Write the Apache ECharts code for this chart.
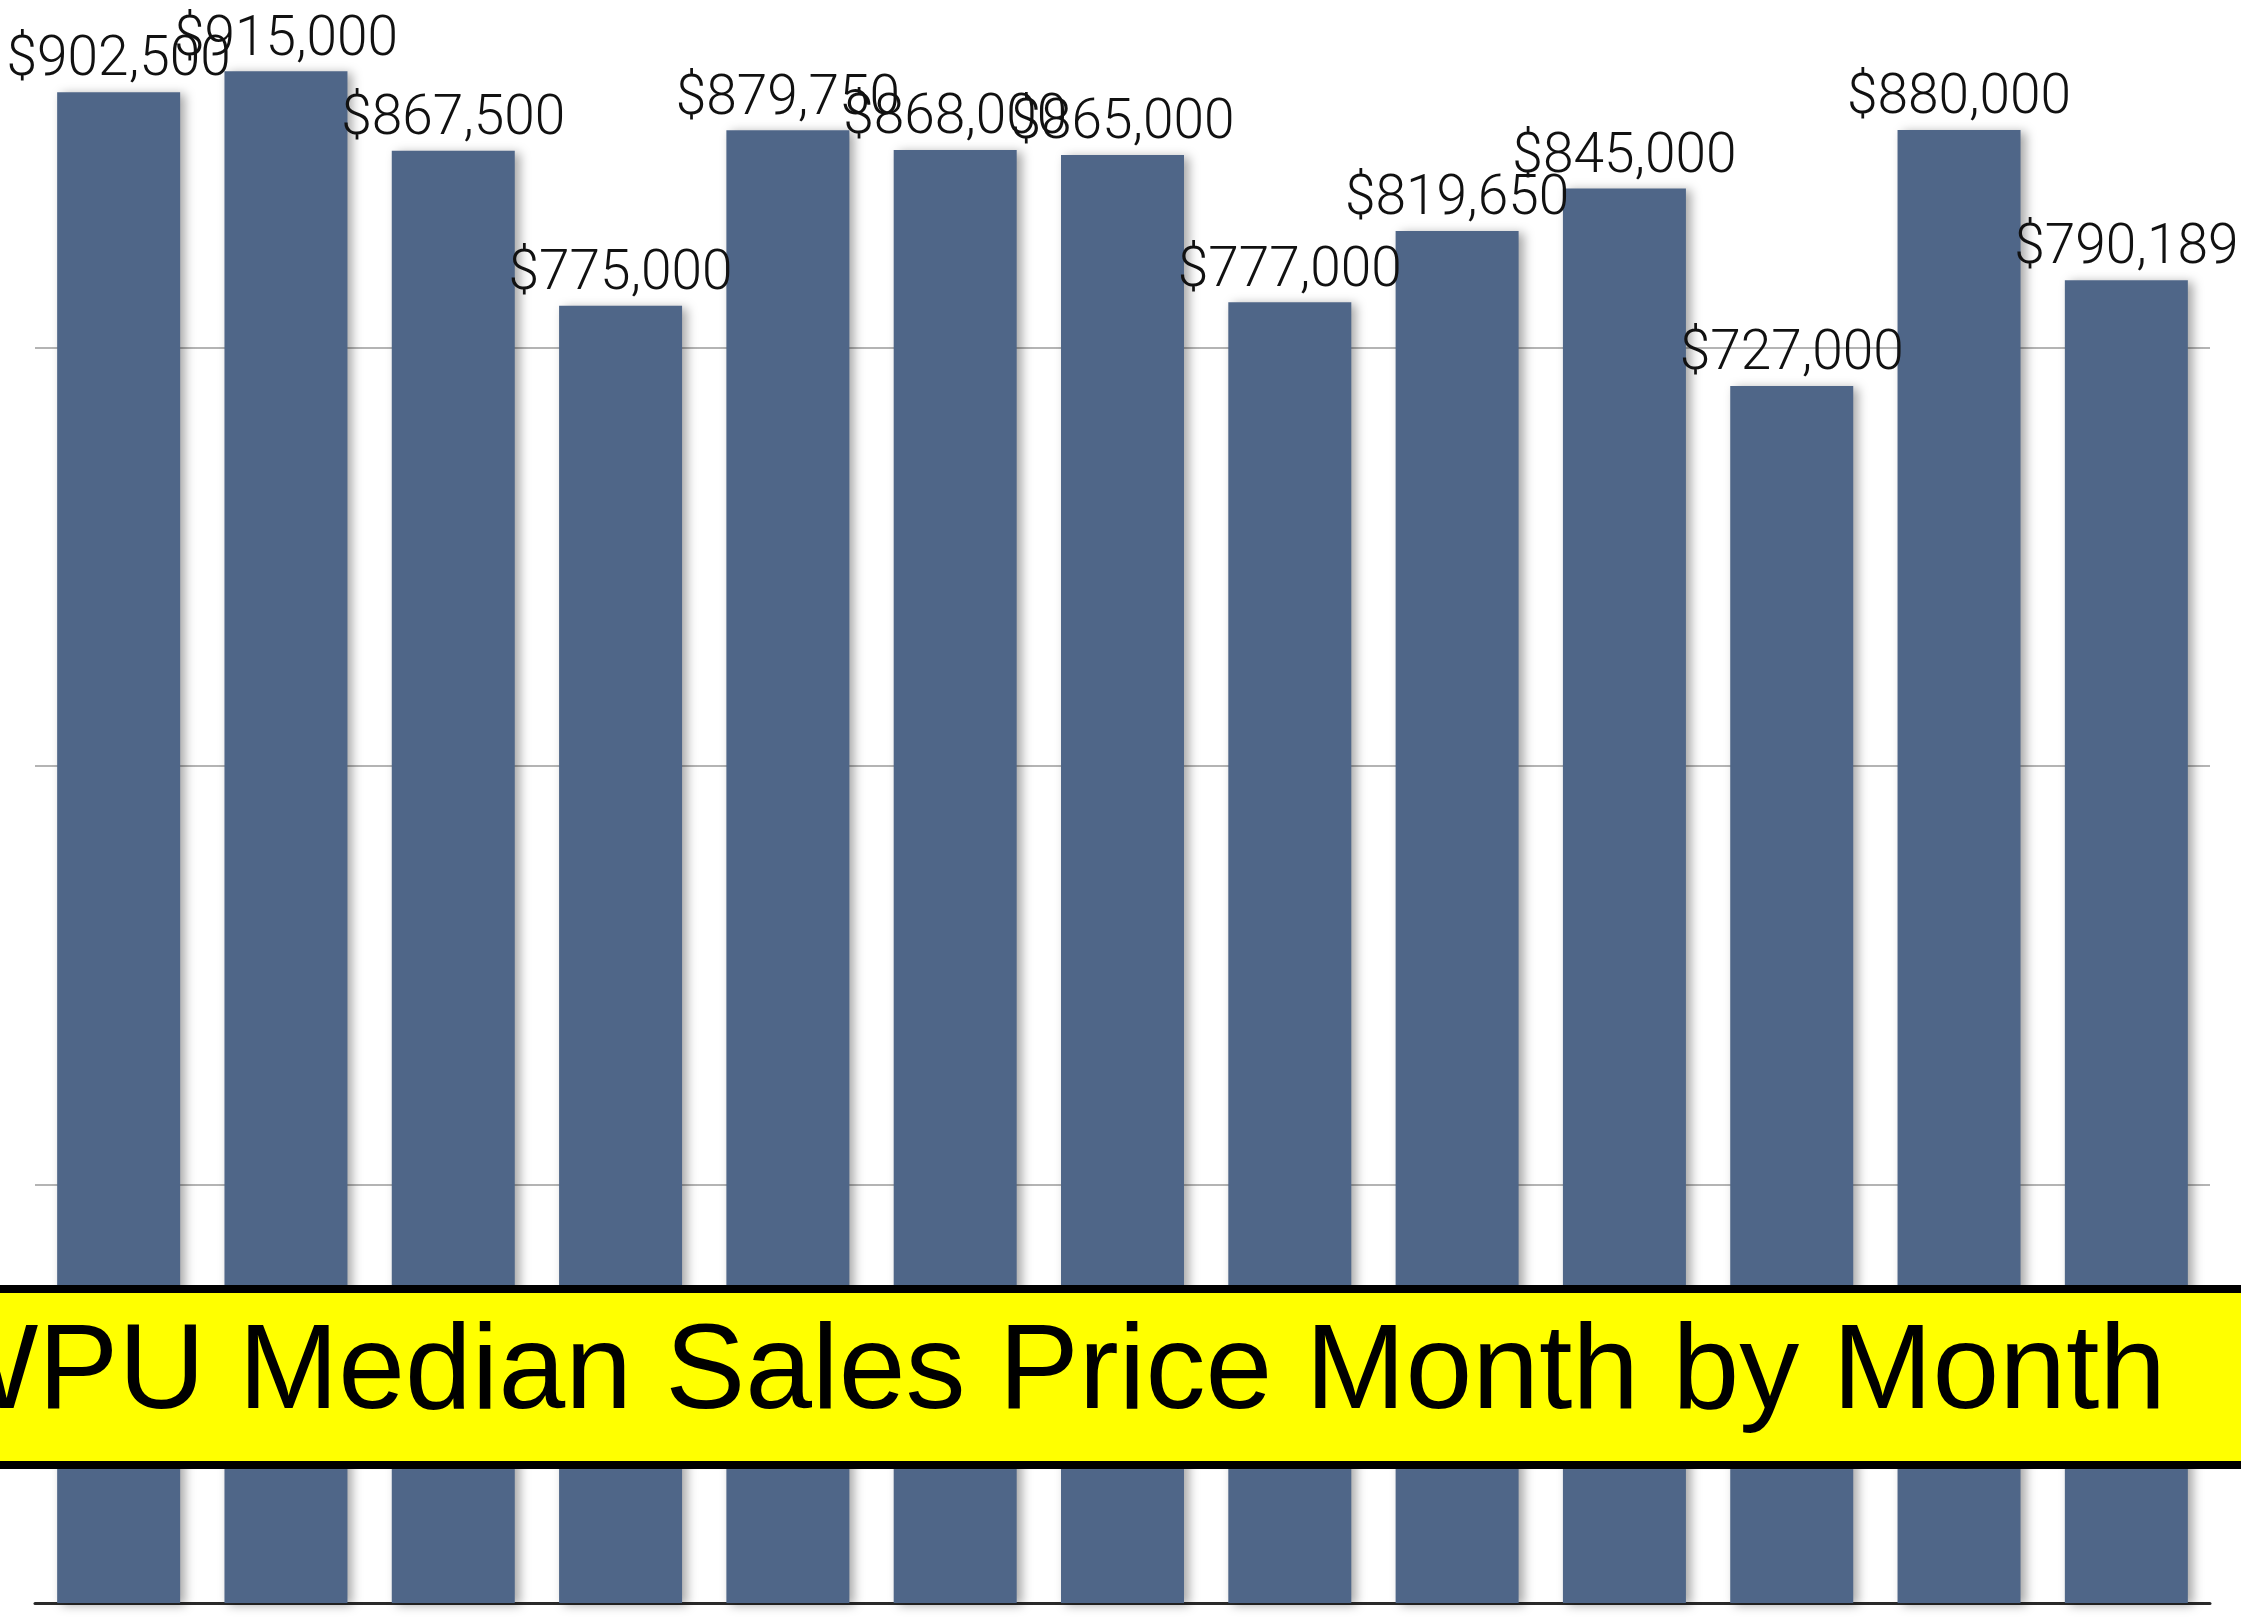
<!DOCTYPE html>
<html>
<head>
<meta charset="utf-8">
<title>WPU Median Sales Price Month by Month</title>
<script src="https://cdn.jsdelivr.net/npm/echarts@6/dist/echarts.min.js"></script>
<style>
    html, body { margin: 0; padding: 0; background: #ffffff; }
    #barChart { width: 2241px; height: 1618px; }
</style>
</head>
<body>
<div id="barChart"></div>
<script>
// data
const months = ['1', '2', '3', '4', '5', '6', '7', '8', '9', '10', '11', '12', '13'];
const medianPrice = [902500, 915000, 867500, 775000, 879750, 868000, 865000, 777000, 819650, 845000, 727000, 880000, 790189];
const yMin = 0;
const yMax = 957600;       // top edge of the plot (the 1,000,000 line is off the picture)
const yStep = 250000;
const bannerText = 'WPU Median Sales Price Month by Month';

function loadBarChart() {
    const chartDom = document.getElementById('barChart');
    const myChart = echarts.init(chartDom);

    const option = {
        animation: false,
        grid: {
            left: 35,
            right: 31,
            top: 0,
            bottom: 15
        },
        xAxis: {
            type: 'category',
            data: months,
            axisTick: { show: false },
            axisLabel: { show: false },
            axisLine: {
                lineStyle: { color: '#2a2a2a', width: 3 }
            }
        },
        yAxis: {
            type: 'value',
            min: yMin,
            max: yMax,
            interval: yStep,
            axisLabel: { show: false },
            axisLine: { show: false },
            axisTick: { show: false },
            splitLine: {
                showMaxLine: false,
                lineStyle: { color: '#b4b4b4', width: 2 }
            }
        },
        series: [{
            name: 'Median Sales Price',
            type: 'bar',
            data: medianPrice,
            barWidth: 123,
            itemStyle: {
                color: '#4f6688',
                shadowColor: 'rgba(0, 0, 0, 0.35)',
                shadowBlur: 10,
                shadowOffsetX: 5,
                shadowOffsetY: 2
            },
            label: {
                show: true,
                position: 'top',
                distance: 3,
                color: '#111',
                fontFamily: 'Roboto, "Liberation Sans", sans-serif',
                fontWeight: 300,
                fontSize: 55,
                formatter: (p) => '$' + p.value.toLocaleString('en-US')
            }
        }],
        graphic: [
            {
                type: 'rect',
                z: 100,
                zlevel: 1,
                shape: { x: -20, y: 1289, width: 2281, height: 176 },
                style: { fill: '#ffff00', stroke: '#000', lineWidth: 8 }
            },
            {
                type: 'text',
                z: 101,
                zlevel: 1,
                x: 2166,
                y: 1375,
                style: {
                    text: bannerText,
                    align: 'right',
                    verticalAlign: 'middle',
                    fill: '#000',
                    font: '120px "Liberation Sans", Arial, sans-serif'
                }
            }
        ]
    };

    myChart.setOption(option);
}
loadBarChart();
</script>
</body>
</html>
